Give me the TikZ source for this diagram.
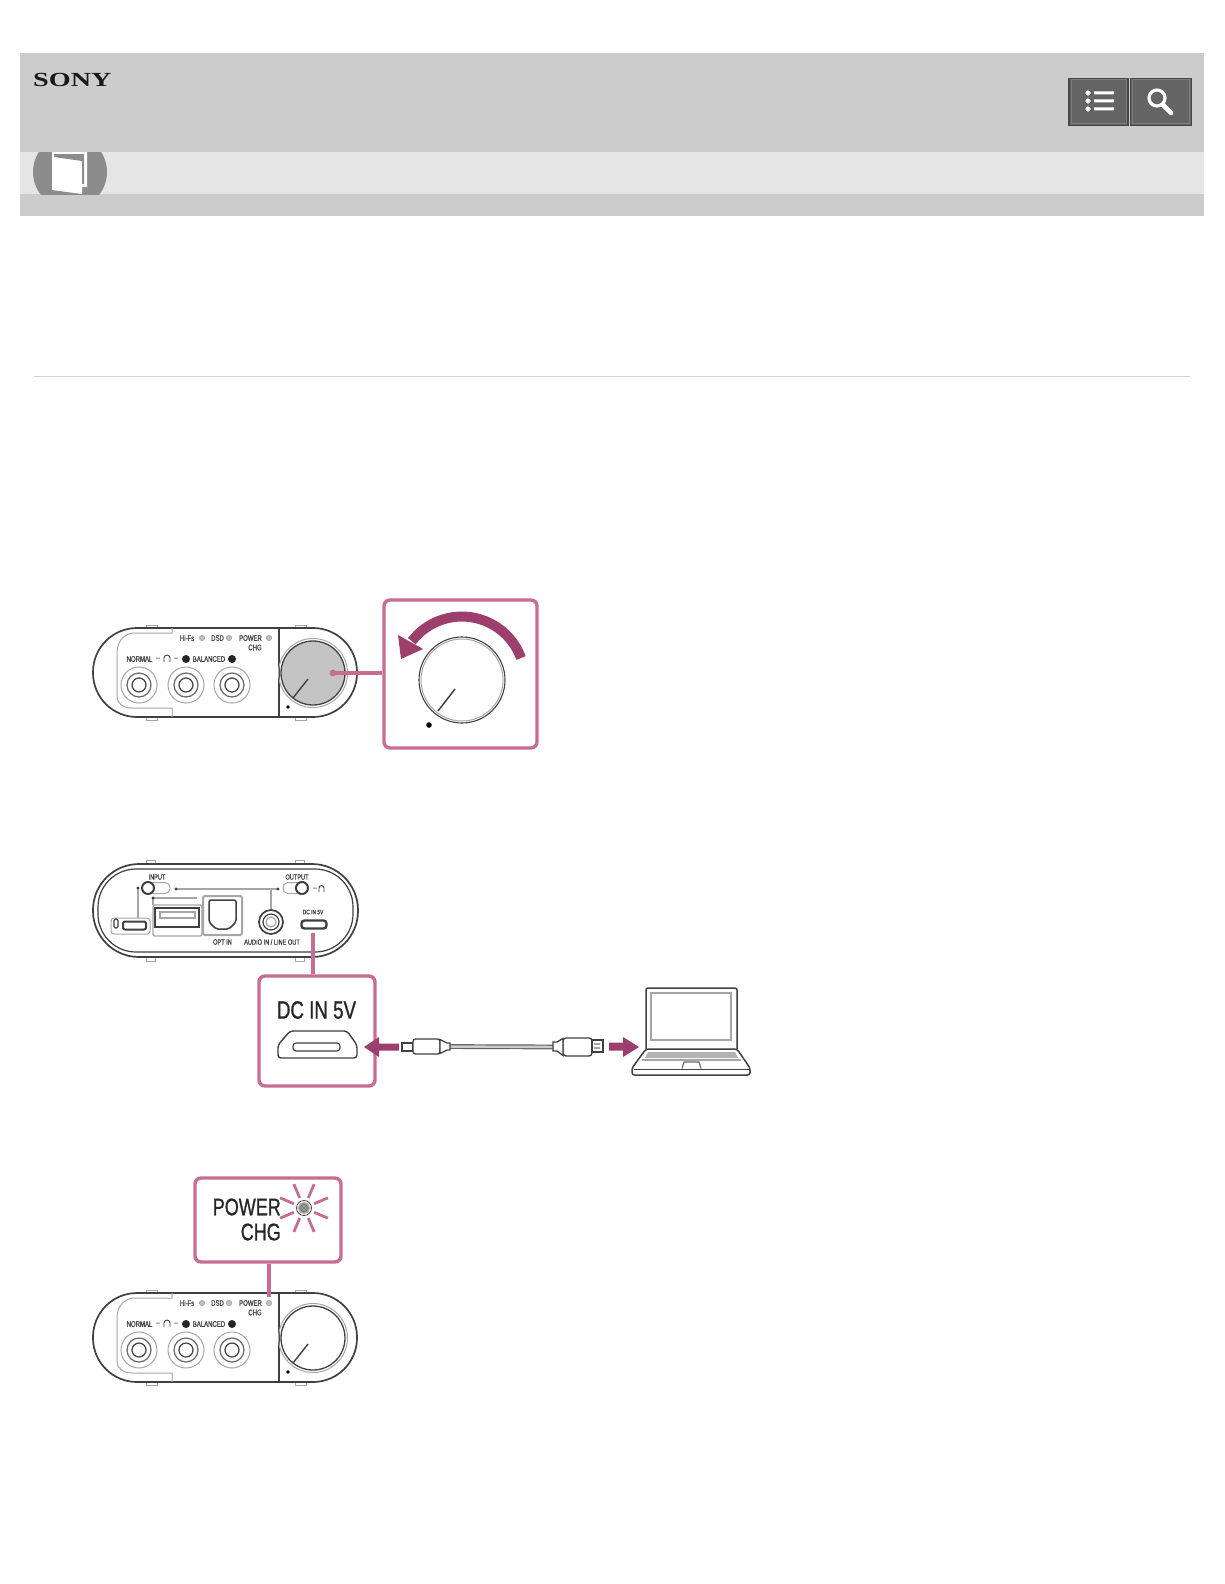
\documentclass[tikz,border=0pt]{standalone}
\usepackage{fontspec}
\usepackage{xcolor}
\usetikzlibrary{arrows.meta,positioning,calc}
\setmainfont{Liberation Sans}
\newfontfamily\narrowfont[FakeStretch=0.75,FakeBold=0.6]{Liberation Sans}
\newfontfamily\bignarrowfont[FakeStretch=0.75,FakeBold=0.9]{Liberation Sans}
\newfontfamily\logofont[FakeStretch=1.41]{Liberation Serif}
\definecolor{sonybar}{HTML}{CCCCCC}
\definecolor{sonyband}{HTML}{E6E6E6}
\definecolor{sonydisc}{HTML}{8C8C8C}
\definecolor{sonybutton}{HTML}{646464}
\definecolor{sonyedge}{HTML}{474747}
\definecolor{sonyglow}{HTML}{7C7C7C}
\definecolor{sonyrule}{HTML}{D4D4D4}
\definecolor{sonyink}{HTML}{404040}
\definecolor{sonysoft}{HTML}{A6A6A6}
\definecolor{sonyknob}{HTML}{C4C4C4}
\definecolor{sonypink}{HTML}{C76C92}
\definecolor{sonyplum}{HTML}{9C3F6C}

\begin{document}
\begin{tikzpicture}[
  x=1pt,y=-1pt,
  bar/.style={fill=sonybar,draw=none,inner sep=0pt},
  iconbutton/.style={draw=sonyedge,fill=sonybutton,line width=1.6pt,inner sep=0pt},
  body/.style={draw=sonyink,fill=white,line width=1.7pt,rounded corners=44pt,inner sep=0pt},
  tab/.style={draw=sonysoft,fill=white,line width=1pt},
  thinline/.style={draw=sonysoft,line width=1pt},
  inkline/.style={draw=sonyink,line width=1.2pt},
  labeltext/.style={font=\narrowfont\fontsize{8}{9}\selectfont,text=sonyink,inner sep=0pt},
  bigtext/.style={font=\bignarrowfont\fontsize{25}{26}\selectfont,text=black!85,inner sep=0pt},
  led/.style={circle,draw=sonysoft,fill=sonyknob,line width=0.9pt,minimum size=5pt,inner sep=0pt},
  zoombox/.style={draw=sonypink,fill=white,line width=3.4pt,rounded corners=6pt,inner sep=0pt},
  zoomline/.style={draw=sonypink,line width=3.6pt},
  ray/.style={draw=sonypink,line width=2.8pt},
  pics/frontpanel/.style={code={
    \draw[tab] (53,-3) rectangle (64,2);
    \draw[tab] (202,-3) rectangle (213,2);
    \draw[tab] (53,87) rectangle (64,92);
    \draw[tab] (202,87) rectangle (213,92);
    \node[body,minimum width=264pt,minimum height=89pt] (-body) at (132,44.5) {};
    \draw[thinline] (79,0) -- (79,5) -- (39,5) .. controls (30,7) and (24,14) .. (24,25) -- (24,69) .. controls (24,75) and (30,80) .. (39,80) -- (79,80) -- (79,89);
    \draw[inkline] (186,0) -- (186,89);
    \node[labeltext] (-hifs) at (94,10) {Hi-Fs};
    \node[led] (-hifsled) at (109,10) {};
    \node[labeltext] (-dsd) at (124.5,10) {DSD};
    \node[led] (-dsdled) at (136,10) {};
    \node[labeltext] (-power) at (157.5,10) {POWER};
    \node[labeltext] (-chg) at (162,19.5) {CHG};
    \node[led] (-powerled) at (176,10) {};
    \node[labeltext] (-normal) at (46.5,31) {NORMAL};
    \node[labeltext] (-dasha) at (65,31) {--};
    \draw[inkline,line width=0.9pt] (71,34) -- (71,30) arc[start angle=180,end angle=360,radius=3] -- (77,34);
    \node[labeltext] (-dashb) at (83,31) {--};
    \node[labeltext] (-balanced) at (116,31) {BALANCED};
    \fill[black!85] (93,31) circle[radius=4] (139,31) circle[radius=4];
    \draw[thinline] (46,57) circle[radius=18] (93,57) circle[radius=18] (139,57) circle[radius=18];
    \draw[inkline,draw=sonyink!80] (46,57) circle[radius=12] (93,57) circle[radius=12] (139,57) circle[radius=12];
    \draw[inkline] (46,57) circle[radius=7] (93,57) circle[radius=7] (139,57) circle[radius=7];
    \node[circle,draw=sonyink,line width=1.3pt,fill=#1,minimum size=64pt,inner sep=0pt] (-knob) at (220,45) {};
    \draw[thinline] (220,45) circle[radius=34.5];
    \draw[inkline,line width=1.4pt] (200,70) -- (215,51);
    \fill[black] (195,79) circle[radius=1.8];
    \coordinate (-knobmark) at (240,45);
  }}
]
\useasboundingbox (0,0) rectangle (1224,1584);

% header
\node[bar,minimum width=1184pt,minimum height=99pt,anchor=north west] (topbar) at (20,53) {};
\node[fill=sonyband,inner sep=0pt,minimum width=1184pt,minimum height=42pt,anchor=north west] (bookband) at (20,152) {};
\node[bar,minimum width=1184pt,minimum height=22pt,anchor=north west] (lowbar) at (20,194) {};
\node[font=\logofont\bfseries\fontsize{20}{20}\selectfont,text=black!90,inner sep=0pt,anchor=west] (sonylogo) at (33,80) {SONY};
\begin{scope}
  \clip (20,152) rectangle (200,194);
  \fill[sonydisc] (70,172) circle[radius=37];
\end{scope}
\fill[white] (52,152) -- (87,152) -- (87,187) -- (82,187) -- (82,194) -- (52,190) -- cycle;
\fill[sonydisc] (54,154) -- (84,154) -- (84,184) -- (82,184) -- (82,161) -- (54,157) -- cycle;

\node[iconbutton,minimum width=59pt,minimum height=47pt] (listbutton) at (1098.5,102) {};
\node[iconbutton,minimum width=61pt,minimum height=47pt] (searchbutton) at (1161,102) {};
\draw[sonyglow,line width=1pt] (1071,80) rectangle (1126,124);
\draw[sonyglow,line width=1pt] (1132.5,80) rectangle (1189.5,124);
\fill[white] (1088,93) circle[radius=2.6] (1088,101) circle[radius=2.6] (1088,109) circle[radius=2.6];
\fill[white] (1094,91.5) rectangle (1114,94.5) (1094,99.5) rectangle (1114,102.5) (1094,107.5) rectangle (1114,110.5);
\draw[white,line width=3.2pt] (1157,98) circle[radius=8];
\draw[white,line width=4.6pt,line cap=round] (1163,105) -- (1171,113);

\draw[sonyrule,line width=1pt] (34,376) -- (1190,376);

% dial
\pic (dialfront) at (93,628) {frontpanel=sonyknob};
\node[zoombox,minimum width=153pt,minimum height=148pt] (dialbox) at (460.5,674) {};
\draw[zoomline] (dialfront-knobmark) -- (dialfront-knobmark -| dialbox.west);
\fill[sonypink] (dialfront-knobmark) circle[radius=3.4];
\draw[sonyink,line width=1.1pt,fill=white] (462,680) circle[radius=43];
\draw[sonysoft,line width=1pt] (462,680) circle[radius=41];
\draw[sonyink,line width=1.5pt] (438,711) -- (455,689);
\fill[black] (429,725) circle[radius=2.8];
\draw[sonyplum,line width=10pt] (521,658) arc[start angle=-20,end angle=-142.5,radius=63];
\fill[sonyplum] (398,635) -- (401,659) -- (423,649) -- cycle;

% rear with cable
\draw[tab] (146,860) rectangle (155,866);
\draw[tab] (295,860) rectangle (304,866);
\draw[tab] (146,955) rectangle (155,961);
\draw[tab] (295,955) rectangle (304,961);
\node[body,minimum width=265pt,minimum height=93pt,rounded corners=46pt] (rearbody) at (225.5,910.5) {};
\draw[inkline,rounded corners=38pt] (98,869) rectangle (353,952);
\node[labeltext,font=\narrowfont\fontsize{7.5}{9}\selectfont] (inputlabel) at (157,877) {INPUT};
\node[labeltext,font=\narrowfont\fontsize{7.5}{9}\selectfont] (outputlabel) at (297,877) {OUTPUT};
\draw[thinline,rounded corners=5pt] (148,882.5) rectangle (170,893.5);
\draw[thinline,rounded corners=5pt] (283,882.5) rectangle (307,893.5);
\draw[sonysoft,line width=1.4pt] (138,888) -- (138,918);
\draw[sonysoft,line width=1.4pt] (176,889) -- (278,889);
\draw[sonysoft,line width=1.4pt] (271,889) -- (271,910);
\draw[sonysoft,line width=1.4pt] (197,898) -- (153,898) -- (153,905);
\fill[sonyink] (138,888) circle[radius=1.6] (176,889) circle[radius=1.6] (278,889) circle[radius=1.6] (153,898) circle[radius=1.6];
\node[circle,draw=sonyink,fill=white,line width=2pt,minimum size=12pt,inner sep=0pt] (inputknob) at (148,888) {};
\node[circle,draw=sonyink,fill=white,line width=2pt,minimum size=12pt,inner sep=0pt] (outputknob) at (302,888) {};
\node[labeltext] (outputdash) at (315,889) {--};
\draw[inkline,line width=0.9pt] (319,892) -- (319,888) arc[start angle=180,end angle=360,radius=2.5] -- (324,892);
\draw[thinline,rounded corners=3pt] (111,918) rectangle (150,934);
\draw[inkline,rounded corners=1.5pt] (114,919) rectangle (118,928);
\node[draw=sonyink,fill=white,line width=2pt,rounded corners=2pt,minimum width=23pt,minimum height=8pt,inner sep=0pt] (leftport) at (134.5,925.5) {};
\draw[thinline,line width=1.4pt,rounded corners=2pt] (153,905) rectangle (202,936);
\node[draw=sonyink,fill=white,line width=1.7pt,minimum width=44pt,minimum height=19pt,inner sep=0pt] (usbport) at (177,917.5) {};
\draw[sonysoft,line width=1.2pt] (160,912) rectangle (195,918);
\draw[sonysoft,line width=2pt,rounded corners=2pt] (203,896) rectangle (242,935);
\draw[sonyink,line width=1.5pt,rounded corners=2pt] (209,900) -- (236,900) -- (236,922) -- (229,929) -- (216,929) -- (209,922) -- cycle;
\node[labeltext,font=\narrowfont\fontsize{7.5}{9}\selectfont] (optlabel) at (222.5,942) {OPT IN};
\node[circle,draw=sonyink,fill=white,line width=1.7pt,minimum size=24pt,inner sep=0pt] (audiojack) at (271,922) {};
\draw[inkline] (271,922) circle[radius=8];
\draw[sonysoft,line width=1.2pt] (271,922) circle[radius=5];
\node[labeltext,font=\narrowfont\fontsize{7.5}{9}\selectfont] (audiolabel) at (272,942) {AUDIO IN / LINE OUT};
\node[labeltext,font=\narrowfont\fontsize{6.5}{9}\selectfont] (dcsmall) at (313,912) {DC IN 5V};
\node[draw=sonyink,fill=white,line width=2.4pt,rounded corners=3pt,minimum width=25pt,minimum height=8pt,inner sep=0pt] (dcport) at (314,924.5) {};

\node[zoombox,minimum width=116pt,minimum height=110pt] (dcbox) at (317,1031) {};
\coordinate (dcmark) at (313,935);
\draw[zoomline] (dcmark) -- (dcmark |- dcbox.north);
\fill[sonypink] (dcmark) circle[radius=2.4];
\node[bigtext] (dctext) at (316.5,1010) {DC IN 5V};
\draw[sonyink,line width=1.4pt,rounded corners=3pt] (290,1031) -- (347,1031) -- (357,1045) -- (357,1058) -- (278,1058) -- (278,1045) -- cycle;
\node[draw=sonyink,line width=1.1pt,rounded corners=3pt,minimum width=47pt,minimum height=8pt,inner sep=0pt] (dcslot) at (316.5,1047) {};
\fill[sonyplum] (399,1043.5) -- (379,1043.5) -- (379,1037) -- (364,1047) -- (379,1057) -- (379,1050.5) -- (399,1050.5) -- cycle;

\node[draw=sonyink,fill=white,line width=1.1pt,minimum width=11pt,minimum height=8pt,inner sep=0pt] (microtip) at (407.5,1047) {};
\node[draw=sonyink,fill=white,line width=1.3pt,rounded corners=2.5pt,minimum width=27pt,minimum height=15pt,inner sep=0pt] (microplug) at (426.5,1046.5) {};
\node[draw=sonyink,fill=white,line width=1.3pt,rounded corners=3pt,minimum width=29pt,minimum height=18pt,inner sep=0pt] (usbplug) at (577.5,1047) {};
\node[draw=sonyink,fill=white,line width=1.1pt,minimum width=11pt,minimum height=12pt,inner sep=0pt] (usbtip) at (597.5,1046) {};
\fill[sonysoft] (594,1043) rectangle (600,1045) (594,1047) rectangle (600,1049);
\draw[sonysoft!60!black,line width=1.2pt,double=white!80!black,double distance=2.4pt] (microplug.east) -- (usbplug.west);
\draw[sonyink,fill=white,line width=1.3pt] (440,1039.5) -- (447,1043) -- (450,1043) -- (450,1050) -- (447,1050) -- (440,1053.5) -- cycle;
\draw[sonyink,fill=white,line width=1.3pt] (563,1038.5) -- (557,1042) -- (553,1042) -- (553,1051) -- (557,1051) -- (563,1055.5) -- cycle;
\fill[sonyplum] (609,1042.5) -- (623,1042.5) -- (623,1037) -- (639,1047) -- (623,1057) -- (623,1050.5) -- (609,1050.5) -- cycle;

\draw[sonyink,fill=white,line width=1.5pt,rounded corners=2pt] (646,1049) -- (646,988) -- (737,988) -- (737,1049);
\draw[sonysoft,line width=1.3pt] (651,993) rectangle (731,1040);
\draw[sonyink,fill=white,line width=1.5pt,rounded corners=2.5pt] (646,1049) -- (737,1049) -- (750,1068) -- (750,1075) -- (632,1075) -- (632,1068) -- cycle;
\draw[sonyink,line width=1pt] (633.5,1069) -- (748.5,1069);
\fill[sonysoft!85] (648,1052) -- (735,1052) -- (738,1058) -- (645,1058) -- cycle;
\draw[sonysoft,line width=1.2pt] (642,1060) -- (741,1060);
\draw[sonysoft!60!black,line width=1.1pt] (682,1068.5) -- (684,1062) -- (699,1062) -- (701,1068.5);

% power lamp
\pic (lampfront) at (93,1293) {frontpanel=white};
\node[zoombox,minimum width=146pt,minimum height=84pt] (lampbox) at (268,1220) {};
\draw[zoomline] (lampbox.south -| lampfront-powerled) -- ($(lampfront-powerled.north)+(0,-3)$);
\node[bigtext,font=\bignarrowfont\fontsize{24}{26}\selectfont,anchor=east] (powertext) at (281,1207) {POWER};
\node[bigtext,font=\bignarrowfont\fontsize{24}{26}\selectfont,anchor=east] (chgtext) at (281,1232) {CHG};
\node[circle,draw=sonysoft,fill=sonydisc,line width=1pt,minimum size=11pt,inner sep=0pt] (lamp) at (304,1208) {};
\draw[sonyink,line width=0.8pt] (lamp) circle[radius=7.5];
\draw[ray] ([shift={(23:11)}]lamp.center) -- ([shift={(23:26)}]lamp.center);
\draw[ray] ([shift={(67:11)}]lamp.center) -- ([shift={(67:26)}]lamp.center);
\draw[ray] ([shift={(113:11)}]lamp.center) -- ([shift={(113:26)}]lamp.center);
\draw[ray] ([shift={(157:11)}]lamp.center) -- ([shift={(157:26)}]lamp.center);
\draw[ray] ([shift={(203:11)}]lamp.center) -- ([shift={(203:26)}]lamp.center);
\draw[ray] ([shift={(247:11)}]lamp.center) -- ([shift={(247:26)}]lamp.center);
\draw[ray] ([shift={(293:11)}]lamp.center) -- ([shift={(293:26)}]lamp.center);
\draw[ray] ([shift={(337:11)}]lamp.center) -- ([shift={(337:26)}]lamp.center);
\end{tikzpicture}
\end{document}
